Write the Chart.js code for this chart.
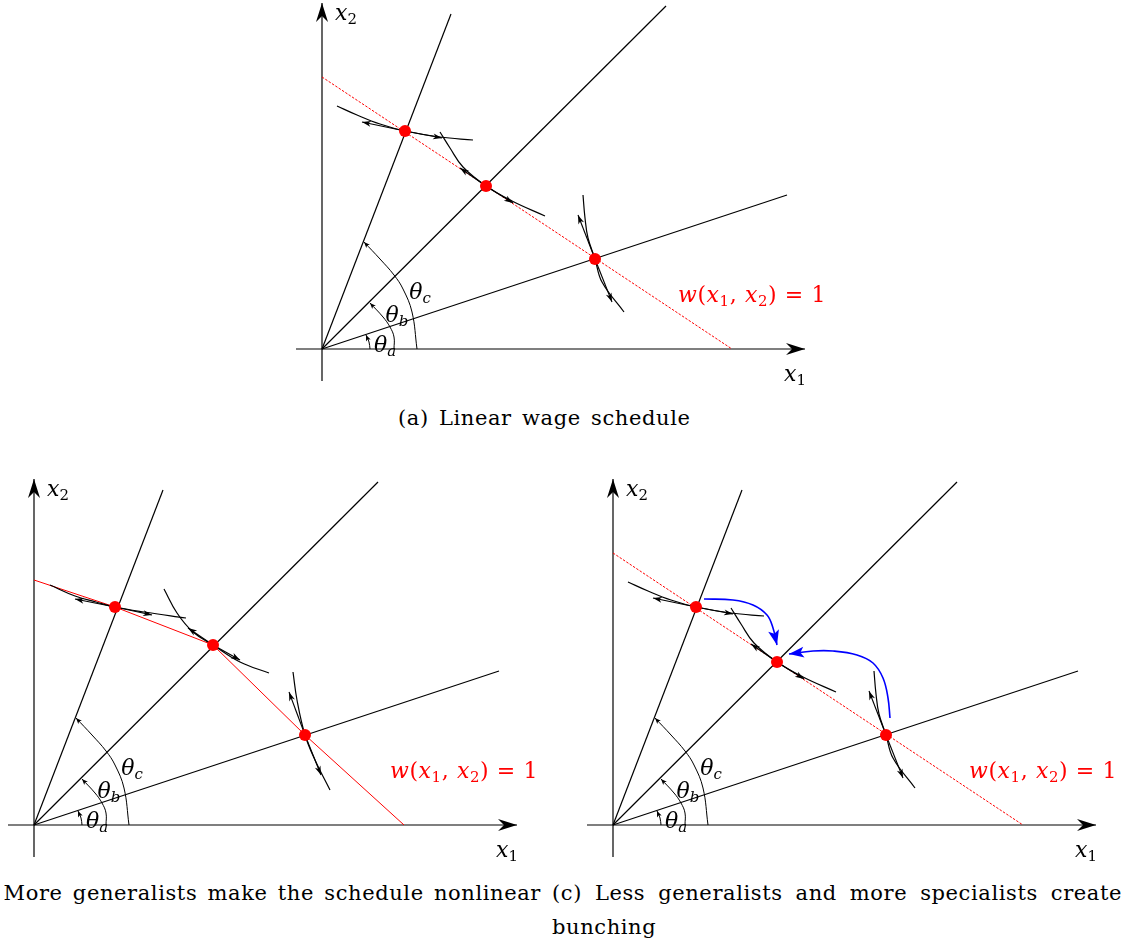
<!DOCTYPE html>
<html>
<head>
<meta charset="utf-8">
<script src="https://cdn.jsdelivr.net/npm/chart.js@4.4.0/dist/chart.umd.min.js"></script>
<style>
  body { margin: 0; width: 1128px; height: 947px; overflow: hidden; background: #fff; position: relative; font-family: "DejaVu Serif", serif; color: #000; }
  canvas { position: absolute; }
  .lbl { position: absolute; transform: translate(-50%, -50%); font-style: italic; font-size: 22px; line-height: 1; white-space: nowrap; }
  .lbl sub { font-size: 68%; vertical-align: -0.3em; line-height: 0; }
  .lbl sub.up { font-style: normal; }
  .cap { position: absolute; font-size: 21px; line-height: 24px; letter-spacing: 0.6px; word-spacing: 3px; white-space: nowrap; }
</style>
</head>
<body>
<canvas id="panelA" width="560" height="395" style="left:280px;top:0px"></canvas>
<canvas id="panelB" width="560" height="400" style="left:0px;top:470px"></canvas>
<canvas id="panelC" width="553" height="400" style="left:575px;top:470px"></canvas>

<div class="cap" style="left:398px;top:406px">(a) Linear wage schedule</div>
<div class="cap" style="right:587px;top:881px">(b) More generalists make the schedule nonlinear</div>
<div class="cap" style="left:552px;top:881px;width:570px;text-align:justify;text-align-last:justify">(c) Less generalists and more specialists create</div>
<div class="cap" style="left:552px;top:915px">bunching</div>

<script>
// all values in figure units (1 unit = 100px), origin at the axes' crossing

// axes and rays (same in every panel)
const xAxisLine = [[-0.26, 0], [4.83, 0]];
const yAxisLine = [[0, -0.32], [0, 3.46]];
const rayA = [[0, 0], [4.65, 1.54]];
const rayB = [[0, 0], [3.44, 3.43]];
const rayC = [[0, 0], [1.29, 3.35]];

// angle arcs
const arcA = [[0.48, 0], [0.47, 0.07], [0.44, 0.14]];
const arcB = [[0.72, 0], [0.72, 0.12], [0.68, 0.22], [0.61, 0.32], [0.48, 0.46]];
const arcC = [[0.95, 0], [0.90, 0.37], [0.81, 0.60], [0.72, 0.74], [0.58, 0.90], [0.42, 1.07]];

// (a) and (c): linear wage schedule
const wageLinear = [[0, 2.72], [4.10, 0]];
const workersA = [[0.83, 2.18], [1.64, 1.63], [2.73, 0.90]];
const curve1A = [[0.15, 2.43], [0.35, 2.34], [0.58, 2.25], [0.83, 2.18], [1.18, 2.12], [1.51, 2.09]];
const curve2A = [[1.18, 2.17], [1.28, 2.01], [1.41, 1.82], [1.64, 1.63], [1.90, 1.48], [2.23, 1.33]];
const curve3A = [[2.61, 1.54], [2.63, 1.31], [2.66, 1.11], [2.73, 0.90], [2.80, 0.67], [3.02, 0.37]];
const tipsA = [[[0.40, 2.27], [1.20, 2.11]], [[1.38, 1.81], [1.91, 1.46]], [[2.56, 1.34], [2.90, 0.47]]];

// (b): nonlinear schedule
const wageNonlinear = [[0, 2.45], [0.81, 2.18], [1.79, 1.80], [2.71, 0.90], [3.70, 0]];
const workersB = [[0.81, 2.18], [1.79, 1.80], [2.71, 0.90]];
const curve1B = [[0.16, 2.40], [0.41, 2.29], [0.62, 2.23], [0.81, 2.18], [1.10, 2.13], [1.52, 2.07]];
const curve2B = [[1.30, 2.36], [1.43, 2.12], [1.59, 1.93], [1.79, 1.80], [2.06, 1.63], [2.35, 1.52]];
const curve3B = [[2.59, 1.53], [2.63, 1.25], [2.71, 0.90], [2.81, 0.65], [2.96, 0.35]];
const tipsB = [[[0.41, 2.26], [1.18, 2.10]], [[1.54, 1.97], [2.06, 1.65]], [[2.55, 1.33], [2.87, 0.50]]];

// (c): bunching moves
const shiftDown = [[0.91, 2.26], [1.20, 2.25], [1.40, 2.20], [1.54, 2.10], [1.60, 1.97], [1.64, 1.80]];
const shiftLeft = [[2.77, 1.07], [2.75, 1.27], [2.70, 1.47], [2.60, 1.62], [2.44, 1.70], [2.20, 1.74], [2.00, 1.74], [1.76, 1.71]];

const ARROWS = {
  axis: { len: 19, half: 6, inset: 6 },
  small: { len: 9, half: 3, inset: 2.5 },
  tiny: { len: 6, half: 2.5, inset: 1.5 },
  blue: { len: 15, half: 5.5, inset: 3.5 }
};

const arrowHeads = {
  id: 'arrowHeads',
  afterDatasetsDraw(chart) {
    const ctx = chart.ctx;
    chart.data.datasets.forEach((ds, i) => {
      if (!ds.arrow) return;
      const pts = chart.getDatasetMeta(i).data;
      const tip = pts[pts.length - 1], prev = pts[pts.length - 2];
      const a = Math.atan2(tip.y - prev.y, tip.x - prev.x);
      const s = ARROWS[ds.arrow];
      ctx.save();
      ctx.translate(tip.x, tip.y);
      ctx.rotate(a);
      ctx.beginPath();
      ctx.moveTo(0, 0);
      ctx.lineTo(-s.len, s.half);
      ctx.lineTo(-s.len + s.inset, 0);
      ctx.lineTo(-s.len, -s.half);
      ctx.closePath();
      ctx.fillStyle = ds.borderColor;
      ctx.fill();
      ctx.restore();
    });
  }
};

function lineSet(pts, opts) {
  return Object.assign({
    data: pts.map(p => ({ x: p[0], y: p[1] })),
    showLine: true,
    pointRadius: 0,
    borderColor: '#000',
    borderWidth: 1.2,
    tension: 0,
    fill: false,
    clip: false
  }, opts);
}

function dotSet(pts) {
  return {
    data: pts.map(p => ({ x: p[0], y: p[1] })),
    showLine: false,
    pointRadius: 6,
    pointBackgroundColor: '#ff0000',
    pointBorderWidth: 0,
    clip: false
  };
}

function tangentArrows(dots, tips) {
  const out = [];
  dots.forEach((d, k) => tips[k].forEach(t => out.push(lineSet([d, t], { arrow: 'small', borderWidth: 1.1 }))));
  return out;
}

function frame() {
  return [
    lineSet(rayA), lineSet(rayB), lineSet(rayC),
    lineSet(arcA, { tension: 0.4, borderWidth: 1, arrow: 'tiny' }),
    lineSet(arcB, { tension: 0.4, borderWidth: 1, arrow: 'tiny' }),
    lineSet(arcC, { tension: 0.4, borderWidth: 1, arrow: 'tiny' }),
    lineSet(xAxisLine, { arrow: 'axis' }),
    lineSet(yAxisLine, { arrow: 'axis' })
  ];
}

const mathLabels = [
  { at: [0.24, 3.36], html: '<i>x</i><sub class="up">2</sub>' },
  { at: [4.73, -0.25], html: '<i>x</i><sub class="up">1</sub>' },
  { at: [0.63, 0.04], html: '<i>θ</i><sub>a</sub>' },
  { at: [0.75, 0.34], html: '<i>θ</i><sub>b</sub>' },
  { at: [0.98, 0.57], html: '<i>θ</i><sub>c</sub>' },
  { at: [4.30, 0.54], html: '<span style="color:#ff0000;letter-spacing:0.6px"><i>w</i>(<i>x</i><sub class="up">1</sub>, <i>x</i><sub class="up">2</sub>) = 1</span>', style: 'font-style:normal' }
];

function makePanel(id, ox, oy, datasets) {
  const canvas = document.getElementById(id);
  const w = canvas.width, h = canvas.height;
  const chart = new Chart(canvas.getContext('2d'), {
    type: 'scatter',
    data: { datasets: datasets },
    options: {
      responsive: false,
      animation: false,
      events: [],
      layout: { padding: 0, autoPadding: false },
      plugins: { legend: { display: false }, tooltip: { enabled: false } },
      scales: {
        x: { type: 'linear', display: false, min: -ox / 100, max: (w - ox) / 100 },
        y: { type: 'linear', display: false, min: -(h - oy) / 100, max: oy / 100 }
      }
    },
    plugins: [arrowHeads]
  });
  mathLabels.forEach(l => {
    const el = document.createElement('div');
    el.className = 'lbl';
    el.innerHTML = l.html;
    if (l.style) el.style.cssText += l.style;
    el.style.left = (canvas.offsetLeft + chart.scales.x.getPixelForValue(l.at[0])) + 'px';
    el.style.top = (canvas.offsetTop + chart.scales.y.getPixelForValue(l.at[1])) + 'px';
    document.body.appendChild(el);
  });
  return chart;
}

const redDash = { borderColor: '#ff0000', borderWidth: 1, borderDash: [2.5, 1.5] };

makePanel('panelA', 42, 349, [
  dotSet(workersA),
  ...tangentArrows(workersA, tipsA),
  lineSet(curve1A, { tension: 0.4 }),
  lineSet(curve2A, { tension: 0.4 }),
  lineSet(curve3A, { tension: 0.4 }),
  lineSet(wageLinear, redDash),
  ...frame()
]);

makePanel('panelB', 34, 355, [
  dotSet(workersB),
  ...tangentArrows(workersB, tipsB),
  lineSet(curve1B, { tension: 0.4 }),
  lineSet(curve2B, { tension: 0.4 }),
  lineSet(curve3B, { tension: 0.4 }),
  lineSet(wageNonlinear, { borderColor: '#ff0000', borderWidth: 1 }),
  ...frame()
]);

makePanel('panelC', 38, 355, [
  dotSet(workersA),
  lineSet(shiftDown, { tension: 0.4, borderColor: '#0000ff', borderWidth: 1.6, arrow: 'blue' }),
  lineSet(shiftLeft, { tension: 0.4, borderColor: '#0000ff', borderWidth: 1.6, arrow: 'blue' }),
  ...tangentArrows(workersA, tipsA),
  lineSet(curve1A, { tension: 0.4 }),
  lineSet(curve2A, { tension: 0.4 }),
  lineSet(curve3A, { tension: 0.4 }),
  lineSet(wageLinear, redDash),
  ...frame()
]);
</script>
</body>
</html>
